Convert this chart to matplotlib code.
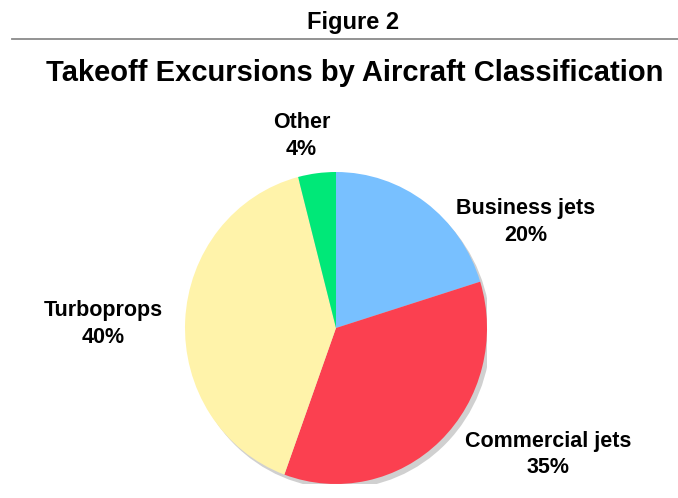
import matplotlib.pyplot as plt
from matplotlib.patches import Ellipse
from matplotlib.lines import Line2D

plt.rcParams['font.family'] = ['Liberation Sans', 'DejaVu Sans']

# Takeoff excursions, share by aircraft class (clockwise from 12 o'clock)
categories = ["Business jets", "Commercial jets", "Turboprops", "Other"]
shares_pct = [20, 35, 40, 4]
colors = ["#78c0ff", "#fb4050", "#fff3aa", "#00e878"]

# where each label block sits, in axes data units
label_xy = [(1.258, 0.68), (1.404, -0.81), (-1.54, 0.026), (-0.228, 1.23)]

fig = plt.figure(figsize=(6.78, 4.98), dpi=100)

fig.text(0.521, 0.955, "Figure 2", ha="center", va="center",
         fontsize=17, fontweight="bold")
fig.add_artist(Line2D([12 / 678, 1.0], [1 - 39.5 / 498, 1 - 39.5 / 498],
                      color="#8a8a8a", lw=1.3))
fig.text(0.5236, 0.854, "Takeoff Excursions by Aircraft Classification",
         ha="center", va="center", fontsize=21, fontweight="bold")

ax = fig.add_axes([185 / 678, 14 / 498, 302 / 678, 312 / 498])

# soft grey drop shadow behind the pie
ax.add_patch(Ellipse((0.025, -0.03), 2, 2, facecolor="#d0d0d0",
                     edgecolor="none", zorder=0))

wedges, _ = ax.pie(shares_pct, colors=colors, startangle=90,
                   counterclock=False,
                   wedgeprops=dict(linewidth=0, zorder=1))

ax.set_aspect("auto")
ax.set_xlim(-1, 1)
ax.set_ylim(-1, 1)
ax.axis("off")

for name, pct, (x, y) in zip(categories, shares_pct, label_xy):
    ax.text(x, y, f"{name}\n{pct}%", ha="center", va="center",
            fontsize=15.5, fontweight="bold", linespacing=1.35,
            clip_on=False)

fig.savefig("out.png", dpi=100)
